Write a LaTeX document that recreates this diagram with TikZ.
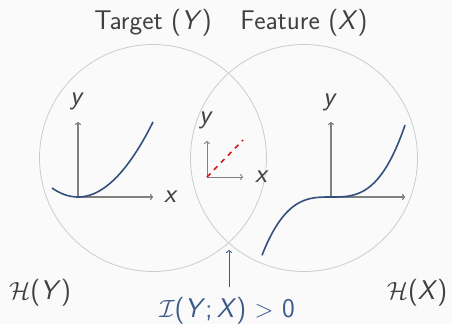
\documentclass[tikz,border=0pt]{standalone}
\usepackage{fontspec}
\usetikzlibrary{arrows.meta}
\definecolor{bg}{HTML}{FAFAFA}
\definecolor{txt}{HTML}{404040}
\definecolor{circ}{HTML}{CCCCCC}
\definecolor{axc}{HTML}{808080}
\definecolor{curve}{HTML}{34507C}
\definecolor{lblue}{HTML}{3C5A8A}
\definecolor{dred}{HTML}{D41A1A}
\newcommand{\vv}[1]{\textit{#1}}
\begin{document}
\begin{tikzpicture}[x=1pt,y=-1pt,
  lbl/.style={font=\sffamily\fontsize{27}{31}\selectfont, text=txt, inner sep=0pt},
  axlbl/.style={font=\sffamily\fontsize{27}{31}\selectfont, text=txt, inner sep=0pt},
  venn/.style={draw=circ, line width=0.8pt},
  axis/.style={draw=axc, line width=1.1pt, -{To[length=3pt,width=6pt]}},
  fn/.style={draw=curve, line width=1.6pt},
  arr/.style={draw=lblue, line width=0.9pt, -{To[length=3pt,width=6pt]}}]
\fill[bg] (0,0) rectangle (452,324);
\useasboundingbox (0,0) rectangle (452,324);
% circles
\draw[venn] (153,158) circle[radius=113.5];
\draw[venn] (304,158) circle[radius=113.5];
% titles
\node[lbl, anchor=base] (tY) at (153,29) {Target (\vv{Y})};
\node[lbl, anchor=base] (tX) at (304,29) {Feature (\vv{X})};
% left axes
\coordinate (lo) at (78,197);
\coordinate (ly) at (78,122);
\coordinate (lx) at (153,197);
\draw[axis] (lo) -- (ly);
\draw[axis] (lo) -- (lx);
\node[axlbl] (lyl) at (77,101) {\vv{y}};
\node[axlbl] (lxl) at (171,197) {\vv{x}};
\draw[fn, domain=-26:75, samples=60] plot ({78+\x},{197-\x*\x/75});
% middle axes
\coordinate (mo) at (207,177);
\coordinate (my) at (207,141);
\coordinate (mx) at (243,177);
\coordinate (mr) at (243,140);
\draw[axis, line width=0.9pt] (mo) -- (my);
\draw[axis, line width=0.9pt] (mo) -- (mx);
\draw[dred, line width=1.6pt, dash pattern=on 5pt off 5pt] (mo) -- (mr);
\node[axlbl] (myl) at (206,120) {\vv{y}};
\node[axlbl] (mxl) at (262,177) {\vv{x}};
% right axes
\coordinate (ro) at (331,197);
\coordinate (ry) at (331,122);
\coordinate (rx) at (405,197);
\draw[axis] (ro) -- (ry);
\draw[axis] (ro) -- (rx);
\node[axlbl] (ryl) at (330,102) {\vv{y}};
\draw[fn, domain=-69:74, samples=80] plot ({331+\x},{197-(\x/17.8)^3});
% entropy labels
\node[lbl, anchor=base] (hY) at (40,299) {$\mathcal{H}$(\vv{Y})};
\node[lbl, anchor=base] (hX) at (417,299) {$\mathcal{H}$(\vv{X})};
% mutual information
\node[lbl, anchor=base, text=lblue] (mi) at (227,317) {$\mathcal{I}$(\vv{Y};\,\vv{X}) $>$ 0};
\coordinate (ab) at (229,287);
\coordinate (at) at (229,250);
\draw[arr] (ab) -- (at);
\end{tikzpicture}
\end{document}
